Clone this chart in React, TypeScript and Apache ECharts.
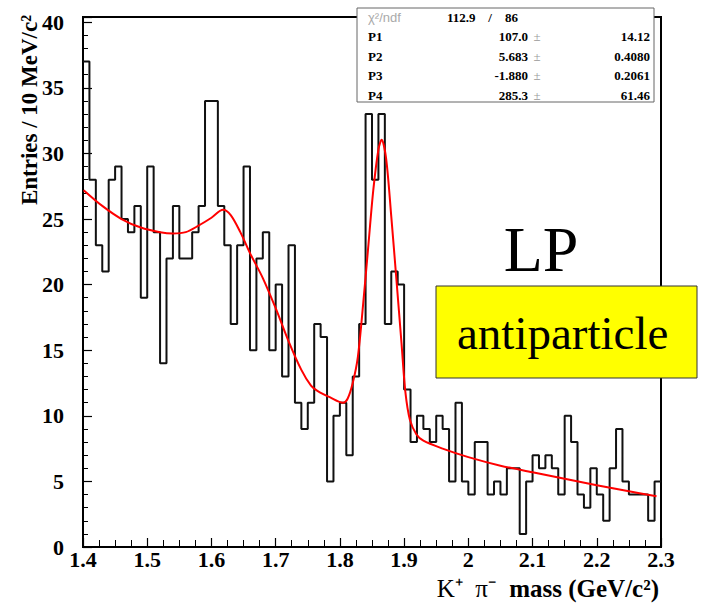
import React, { useEffect, useRef } from "react";
import * as echarts from "echarts";

// ---- data ----
const xMin = 1.4;
const xMax = 2.3;
const binWidth = 0.01;
const yMax = 40.4;

const binCounts = [
  37, 28, 23, 21, 28, 29, 25, 24, 26, 19,
  29, 24, 14, 22, 26, 22, 22, 24, 26, 34,
  34, 26, 23, 17, 23, 29, 15, 22, 24, 15,
  20, 13, 23, 11, 9, 11, 17, 16, 5, 10,
  11, 7, 13, 17, 33, 28, 33, 17, 21, 20,
  12, 8, 10, 9, 8, 10, 9, 5, 11, 5,
  4, 8, 8, 4, 5, 4, 6, 6, 1, 5,
  7, 6, 7, 6, 4, 10, 8, 4, 3, 6,
  4, 2, 6, 9, 5, 4, 4, 4, 2, 5,
];

const fitX = [
  1.401, 1.43, 1.46, 1.49, 1.52, 1.54, 1.56, 1.58, 1.6, 1.618,
  1.63, 1.645, 1.66, 1.68, 1.7, 1.72, 1.74, 1.755, 1.765, 1.785,
  1.805, 1.812, 1.82, 1.828, 1.836, 1.844, 1.852, 1.86, 1.865, 1.872,
  1.88, 1.888, 1.896, 1.902, 1.909, 1.919, 1.93, 1.96, 2.0, 2.05,
  2.1, 2.15, 2.2, 2.25, 2.293,
];
const fitY = [
  27.2, 26.0, 25.0, 24.35, 24.0, 23.9, 24.0, 24.5, 25.1, 25.7,
  25.3, 24.0, 22.4, 20.5, 18.2, 15.7, 13.5, 12.3, 11.9, 11.4,
  11.0, 11.3, 12.5, 14.5, 18.4, 22.8, 27.2, 30.3, 31.05, 29.6,
  25.2, 20.4, 15.5, 11.8, 9.7, 8.6, 8.1, 7.5, 6.85, 6.2,
  5.7, 5.2, 4.7, 4.25, 3.87,
];

const statNames = ["P1", "P2", "P3", "P4"];
const statValues = ["107.0", "5.683", "-1.880", "285.3"];
const statErrors = ["14.12", "0.4080", "0.2061", "61.46"];
const chi2Text = "112.9";
const ndfText = "86";

const SERIF = "Liberation Serif, Times New Roman, serif";
const SANS = "Liberation Sans, Arial, sans-serif";

export default function App() {
  const ref = useRef<HTMLDivElement>(null);

  useEffect(() => {
    const chart = echarts.init(ref.current!, null, { renderer: "svg" });

    const histData: number[][] = binCounts.map((v, i) => [xMin + i * binWidth, v]);
    histData.push([xMax, binCounts[binCounts.length - 1]]);
    const fitData = fitX.map((x, i) => [x, fitY[i]]);

    const rowY = [36.7, 56, 75.5, 95];
    const statGraphics: any[] = [];
    statNames.forEach((n, i) => {
      statGraphics.push({
        type: "text", x: 368, y: rowY[i], z: 102,
        style: { text: n, font: `bold 13px ${SERIF}`, fill: "#000", textAlign: "left", textVerticalAlign: "middle" },
      });
      statGraphics.push({
        type: "text", x: 528, y: rowY[i], z: 102,
        style: { text: statValues[i], font: `bold 13px ${SERIF}`, fill: "#000", textAlign: "right", textVerticalAlign: "middle" },
      });
      statGraphics.push({
        type: "text", x: 537, y: rowY[i], z: 102,
        style: { text: "±", font: `13px ${SERIF}`, fill: "#999", textAlign: "center", textVerticalAlign: "middle" },
      });
      statGraphics.push({
        type: "text", x: 650, y: rowY[i], z: 102,
        style: { text: statErrors[i], font: `bold 13px ${SERIF}`, fill: "#000", textAlign: "right", textVerticalAlign: "middle" },
      });
    });

    const option: any = {
      animation: false,
      backgroundColor: "#fff",
      grid: {
        left: 83, right: 46, top: 17, bottom: 56,
        show: true, borderColor: "#000", borderWidth: 2, backgroundColor: "#fff",
      },
      xAxis: {
        type: "value", min: xMin, max: xMax, interval: 0.1,
        axisLine: { show: false },
        splitLine: { show: false },
        axisTick: { show: true, inside: true, length: 9, lineStyle: { color: "#000", width: 1.2 } },
        minorTick: { show: true, splitNumber: 4, length: 7, lineStyle: { color: "#000", width: 1 } },
        axisLabel: {
          fontFamily: SERIF, fontWeight: "bold", fontSize: 22, color: "#000", margin: 1,
          showMinLabel: true, showMaxLabel: true,
          formatter: (v: number) => String(+v.toFixed(2)),
        },
      },
      yAxis: [
        {
          type: "value", min: 0, max: yMax, interval: 5, position: "left",
          axisLine: { show: false },
          splitLine: { show: false },
          axisTick: { show: true, inside: true, length: 9, lineStyle: { color: "#000", width: 1.2 } },
          axisLabel: {
            fontFamily: SERIF, fontWeight: "bold", fontSize: 22, color: "#000", margin: 19,
            formatter: (v: number) => (Math.abs(v % 5) < 1e-6 ? String(v) : ""),
          },
        },
        {
          type: "value", min: 0, max: yMax, interval: 1, position: "left",
          axisLine: { show: false },
          splitLine: { show: false },
          axisTick: { show: true, inside: true, length: 5, lineStyle: { color: "#000", width: 1 } },
          axisLabel: { show: false },
        },
      ],
      series: [
        {
          type: "line", name: "hist", data: histData, step: "end",
          showSymbol: false, symbol: "none", yAxisIndex: 0,
          lineStyle: { color: "#111", width: 2 },
          z: 3,
        },
        {
          type: "line", name: "fit", data: fitData, smooth: 0.3,
          showSymbol: false, symbol: "none", yAxisIndex: 0,
          lineStyle: { color: "#ff0000", width: 2 },
          z: 4,
        },
      ],
      graphic: [
        // stats box
        {
          type: "rect", z: 100,
          shape: { x: 357, y: 8, width: 297, height: 94 },
          style: { fill: "#fff", stroke: "#666", lineWidth: 1 },
        },
        {
          type: "text", x: 368, y: 17, z: 102,
          style: { text: "χ²/ndf", font: `13px ${SANS}`, fill: "#aaa", textAlign: "left", textVerticalAlign: "middle" },
        },
        {
          type: "text", x: 447, y: 17, z: 102,
          style: { text: chi2Text, font: `bold 13px ${SERIF}`, fill: "#000", textAlign: "left", textVerticalAlign: "middle" },
        },
        {
          type: "text", x: 490, y: 17, z: 102,
          style: { text: "/", font: `bold 13px ${SERIF}`, fill: "#000", textAlign: "center", textVerticalAlign: "middle" },
        },
        {
          type: "text", x: 505, y: 17, z: 102,
          style: { text: ndfText, font: `bold 13px ${SERIF}`, fill: "#000", textAlign: "left", textVerticalAlign: "middle" },
        },
        ...statGraphics,
        // LP label
        {
          type: "text", x: 541, y: 249, z: 102,
          style: { text: "LP", font: `64px ${SERIF}`, fill: "#000", textAlign: "center", textVerticalAlign: "middle" },
        },
        // yellow box
        {
          type: "rect", z: 100,
          shape: { x: 436, y: 286, width: 261, height: 92 },
          style: { fill: "#ffff00", stroke: "#333", lineWidth: 1 },
        },
        {
          type: "text", x: 457, y: 333, z: 102,
          style: { text: "antiparticle", font: `47px ${SERIF}`, fill: "#000", textAlign: "left", textVerticalAlign: "middle" },
        },
        // x-axis title
        {
          type: "text", x: 496, y: 588, z: 102,
          style: { text: "K⁺  π⁻", font: `25px ${SERIF}`, fill: "#000", textAlign: "right", textVerticalAlign: "middle" },
        },
        {
          type: "text", x: 659, y: 588, z: 102,
          style: { text: "mass (GeV/c²)", font: `bold 25px ${SERIF}`, fill: "#000", textAlign: "right", textVerticalAlign: "middle" },
        },
        // y-axis title
        {
          type: "text", x: 29, y: 110, z: 102, rotation: Math.PI / 2,
          style: { text: "Entries / 10 MeV/c²", font: `bold 23px ${SERIF}`, fill: "#000", textAlign: "center", textVerticalAlign: "middle" },
        },
      ],
    };

    chart.setOption(option);
    return () => chart.dispose();
  }, []);

  return (
    <div
      ref={ref}
      style={{ position: "absolute", left: 0, top: 0, width: 707, height: 603, background: "#fff" }}
    />
  );
}
